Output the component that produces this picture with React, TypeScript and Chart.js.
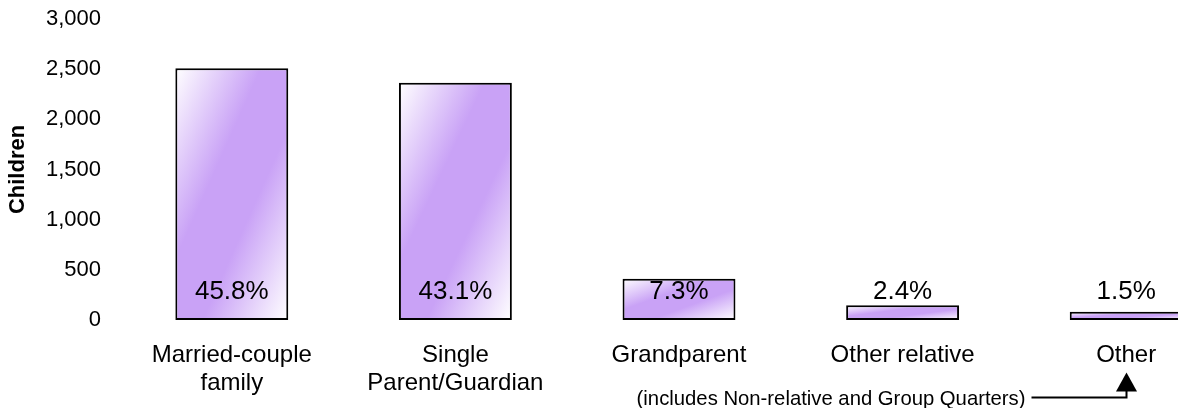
import React, { useEffect, useRef } from 'react';
import { Chart, registerables } from 'chart.js';

Chart.register(...registerables);

// ---- data ----
const categories: (string | string[])[] = [
  ['Married-couple', 'family'],
  ['Single', 'Parent/Guardian'],
  'Grandparent',
  'Other relative',
  'Other',
];
const childrenCounts = [2510, 2365, 412, 147, 83];
const shareLabels = ['45.8%', '43.1%', '7.3%', '2.4%', '1.5%'];
const yTickMin = 0;
const yTickMax = 3000;
const yTickStep = 500;
const yAxisTitle = 'Children';
const footnote = '(includes Non-relative and Group Quarters)';

// ---- style ----
const FONT = "'Liberation Sans', Arial, Helvetica, sans-serif";
const BAR_PCT = 0.505;
const PURPLE = '#c9a2f6';

const shareLabelPlugin = {
  id: 'shareLabels',
  afterDatasetsDraw(chart: any) {
    const { ctx } = chart;
    const meta = chart.getDatasetMeta(0);
    const y0 = chart.scales.y.getPixelForValue(0);
    ctx.save();
    ctx.font = `26px ${FONT}`;
    ctx.fillStyle = '#000';
    ctx.textAlign = 'center';
    ctx.textBaseline = 'alphabetic';
    meta.data.forEach((bar: any, i: number) => {
      ctx.fillText(shareLabels[i], bar.x, y0 - 21);
    });
    ctx.restore();
  },
};

const footnotePlugin = {
  id: 'footnote',
  afterDraw(chart: any) {
    const { ctx } = chart;
    const xs = chart.scales.x;
    const ax = Math.round(xs.getPixelForValue(categories.length - 1)) + 0.5;
    const h = chart.height;
    const lineY = h - 10.5;
    ctx.save();
    ctx.font = `20.3px ${FONT}`;
    ctx.fillStyle = '#000';
    ctx.textAlign = 'right';
    ctx.textBaseline = 'alphabetic';
    ctx.fillText(footnote, ax - 101, h - 3);
    ctx.strokeStyle = '#000';
    ctx.lineWidth = 2;
    ctx.beginPath();
    ctx.moveTo(ax - 95, lineY);
    ctx.lineTo(ax, lineY);
    ctx.lineTo(ax, lineY - 7);
    ctx.stroke();
    ctx.beginPath();
    ctx.moveTo(ax - 10.5, lineY - 6);
    ctx.lineTo(ax + 10.5, lineY - 6);
    ctx.lineTo(ax, lineY - 25);
    ctx.closePath();
    ctx.fill();
    ctx.restore();
  },
};

function barGradient(ctx: any) {
  const chart = ctx.chart;
  const xs = chart.scales?.x;
  const ys = chart.scales?.y;
  if (!xs || !ys || ctx.type !== 'data' || !xs.width) return PURPLE;
  const i = ctx.dataIndex;
  const v = ctx.raw as number;
  const cx = xs.getPixelForValue(i);
  const w = (xs.width / categories.length) * BAR_PCT;
  const top = ys.getPixelForValue(v);
  const bottom = ys.getPixelForValue(0);
  const h = Math.max(bottom - top, 1);
  const cy = (top + bottom) / 2;
  const k = (w * h) / (w * w + h * h);
  const g = chart.ctx.createLinearGradient(cx - h * k, cy - w * k, cx + h * k, cy + w * k);
  g.addColorStop(0, '#ffffff');
  g.addColorStop(0.38, PURPLE);
  g.addColorStop(0.62, PURPLE);
  g.addColorStop(1, '#ffffff');
  return g;
}

export default function App() {
  const canvasRef = useRef<HTMLCanvasElement | null>(null);

  useEffect(() => {
    const canvas = canvasRef.current;
    if (!canvas) return;
    const chart = new Chart(canvas, {
      type: 'bar',
      data: {
        labels: categories,
        datasets: [
          {
            data: childrenCounts,
            backgroundColor: barGradient,
            borderColor: '#000',
            borderWidth: 2,
            borderSkipped: false,
            categoryPercentage: 1,
            barPercentage: BAR_PCT,
          },
        ],
      },
      options: {
        responsive: false,
        animation: false,
        devicePixelRatio: 1,
        events: [],
        layout: { padding: { left: 0, right: 12, top: 19, bottom: 0 } },
        plugins: {
          legend: { display: false },
          tooltip: { enabled: false },
        },
        scales: {
          x: {
            grid: { display: false, drawTicks: false },
            border: { display: false },
            ticks: {
              color: '#000',
              font: { family: FONT, size: 24, lineHeight: 1.15 },
              padding: 22,
              maxRotation: 0,
              minRotation: 0,
              autoSkip: false,
            },
            afterFit: (s: any) => {
              s.height = 88;
            },
          },
          y: {
            min: yTickMin,
            max: yTickMax,
            grid: { display: false, drawTicks: false },
            border: { display: false },
            ticks: {
              stepSize: yTickStep,
              color: '#000',
              font: { family: FONT, size: 22 },
              padding: 19,
              callback: (v: any) => Number(v).toLocaleString('en-US'),
            },
            title: {
              display: true,
              text: yAxisTitle,
              color: '#000',
              font: { family: FONT, size: 22, weight: 'bold' },
              padding: { top: 5, bottom: 0 },
            },
            afterFit: (s: any) => {
              s.width = 120;
              s.paddingTop = 0;
              s.paddingBottom = 0;
            },
          },
        },
      },
      plugins: [shareLabelPlugin, footnotePlugin],
    } as any);
    return () => chart.destroy();
  }, []);

  return (
    <div
      style={{
        position: 'absolute',
        left: 0,
        top: 0,
        width: 1178,
        height: 408,
        overflow: 'hidden',
        background: '#fff',
      }}
    >
      <canvas
        ref={canvasRef}
        width={1250}
        height={408}
        style={{ width: '1250px', height: '408px', display: 'block' }}
      />
    </div>
  );
}
